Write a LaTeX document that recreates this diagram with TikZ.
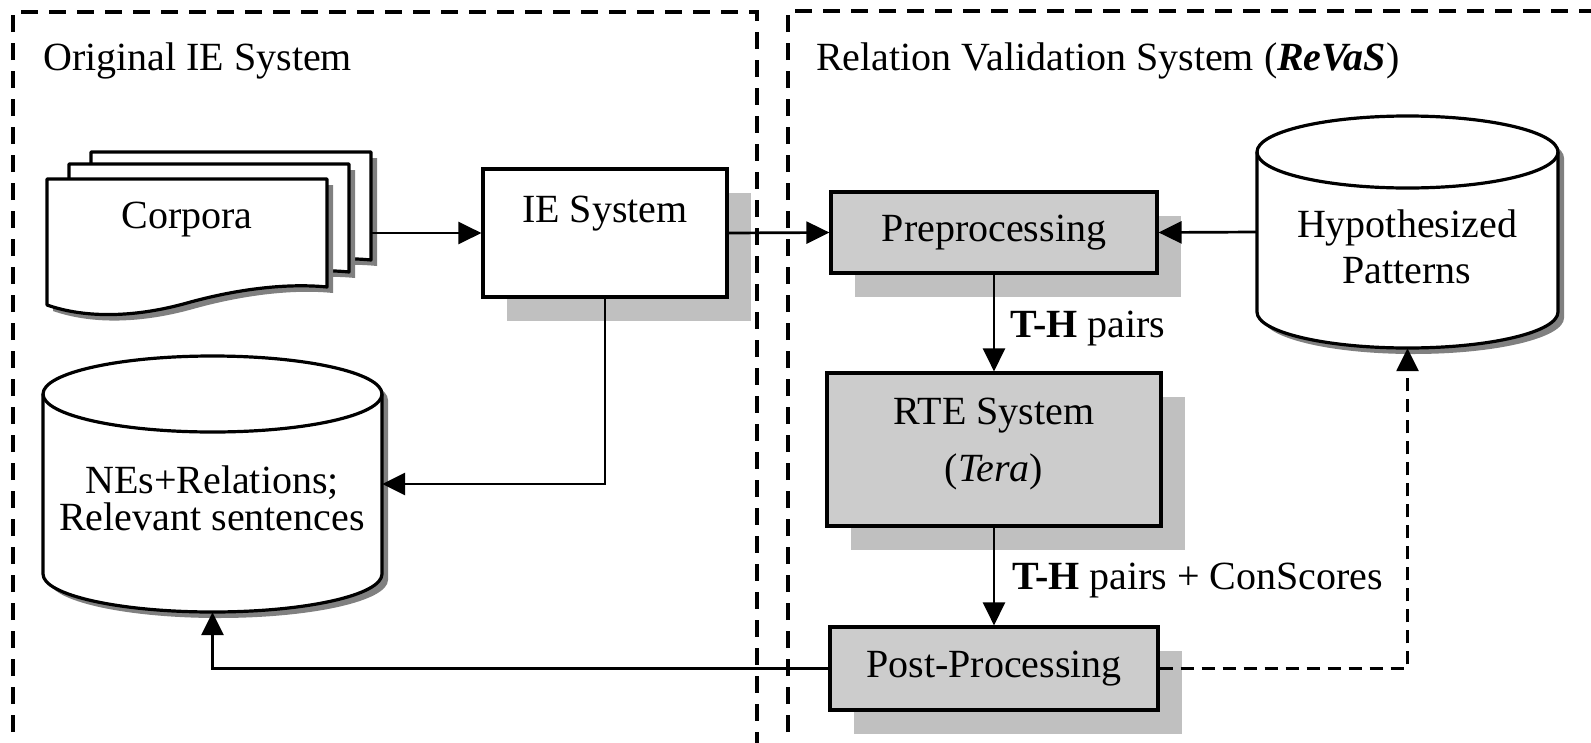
\documentclass[tikz,border=0pt]{standalone}
\usepackage{fontspec}
\setmainfont{Liberation Serif}
\usetikzlibrary{arrows.meta,shadows}
\definecolor{boxfill}{HTML}{CCCCCC}
\definecolor{boxshade}{HTML}{C0C0C0}
\definecolor{darkshade}{HTML}{808080}
\tikzset{
  every node/.style={font=\fontsize{40}{46}\selectfont, inner sep=0pt},
  bshadow/.style={drop shadow={shadow xshift=24pt, shadow yshift=-24pt, fill=boxshade, opacity=1}},
  procbox/.style={draw, line width=3.2pt, fill=boxfill, bshadow},
  iebox/.style={draw, line width=3.2pt, fill=white, bshadow},
  conn/.style={line width=2.7pt, -{Triangle[length=23pt,width=22pt]}},
  dconn/.style={conn, dash pattern=on 13pt off 8pt},
  frame/.style={line width=3.2pt, dash pattern=on 17pt off 11pt},
  outline/.style={draw, line width=3.2pt, fill=white, line join=round},
  shade/.style={fill=darkshade},
}
% document shape: x0, y0 (top-left), style
\newcommand{\docshape}[3]{%
  \path[#3] (#1,#2) -- ({#1+280},#2) -- ({#1+280},{#2+108})
    .. controls ({#1+240},{#2+104}) and ({#1+190},{#2+110}) .. ({#1+140},{#2+124})
    .. controls ({#1+90},{#2+138}) and ({#1+40},{#2+140}) .. (#1,{#2+126}) -- cycle;}
% cylinder body: cx, yt, yb, rx, ry, style
\newcommand{\cylbody}[6]{%
  \path[#6] ({#1-#4},#2) -- ({#1-#4},#3)
    .. controls ({#1-#4},{#3+0.5523*#5}) and ({#1-0.5523*#4},{#3+#5}) .. (#1,{#3+#5})
    .. controls ({#1+0.5523*#4},{#3+#5}) and ({#1+#4},{#3+0.5523*#5}) .. ({#1+#4},#3)
    -- ({#1+#4},#2)
    .. controls ({#1+#4},{#2-0.5523*#5}) and ({#1+0.5523*#4},{#2-#5}) .. (#1,{#2-#5})
    .. controls ({#1-0.5523*#4},{#2-#5}) and ({#1-#4},{#2-0.5523*#5}) .. ({#1-#4},#2) -- cycle;}
\newcommand{\cyltoprim}[5]{%
  \draw[line width=3.2pt] ({#1-#4},#2)
    .. controls ({#1-#4},{#2+0.5523*#5}) and ({#1-0.5523*#4},{#2+#5}) .. (#1,{#2+#5})
    .. controls ({#1+0.5523*#4},{#2+#5}) and ({#1+#4},{#2+0.5523*#5}) .. ({#1+#4},#2);}
\begin{document}
\begin{tikzpicture}[x=1pt,y=-1pt]
\useasboundingbox (0,0) rectangle (1591,742);
\clip (0,0) rectangle (1591,742);
% frames
\draw[frame] (13,760) -- (13,12) -- (757,12) -- (757,760);
\draw[frame] (788,760) -- (788,11) -- (1600,11);
\node[anchor=base west] (lefttitle) at (43,70) {Original IE System};
\node[anchor=base west] (righttitle) at (816,70) {Relation Validation System (\textbf{\textit{ReVaS}})};
% corpora
\docshape{97}{158}{shade}
\docshape{91}{152}{outline}
\docshape{75}{170}{shade}
\docshape{69}{164}{outline}
\docshape{53}{185}{shade}
\docshape{47}{179}{outline}
\node[anchor=base] (corpora) at (187,228) {Corpora};
\coordinate (corpR) at (371,233);
% IE system
\node[iebox, minimum width=244pt, minimum height=128pt] (ie) at (605,233) {};
\node[anchor=base] (ietext) at (605,222) {IE System};
% NEs cylinder
\node[minimum width=339pt, minimum height=256pt] (nes) at (212.5,484) {};
\begin{scope}[shift={(6,6)}]
\cylbody{212.5}{394}{574}{169.5}{38}{shade}
\end{scope}
\cylbody{212.5}{394}{574}{169.5}{38}{outline}
\cyltoprim{212.5}{394}{574}{169.5}{38}
\node[anchor=base] (nest1) at (212,493) {NEs+Relations;};
\node[anchor=base] (nest2) at (212,530) {Relevant sentences};
% Hypothesized patterns cylinder
\node[minimum width=301pt, minimum height=232pt] (hyp) at (1407.5,232) {};
\begin{scope}[shift={(6,6)}]
\cylbody{1407.5}{152}{312}{150.5}{36}{shade}
\end{scope}
\cylbody{1407.5}{152}{312}{150.5}{36}{outline}
\cyltoprim{1407.5}{152}{312}{150.5}{36}
\node[anchor=base] (hypt1) at (1407,237) {Hypothesized};
\node[anchor=base] (hypt2) at (1407,283) {Patterns};
% RVS boxes
\node[procbox, minimum width=326pt, minimum height=81pt] (pre) at (994,232.5) {Preprocessing};
\node[procbox, minimum width=334pt, minimum height=153pt] (rte) at (994,449.5) {};
\node[anchor=base] (rtet1) at (994,424) {RTE System};
\node[anchor=base] (rtet2) at (994,481) {(\textit{Tera})};
\node[procbox, minimum width=328pt, minimum height=83pt] (post) at (994,668.5) {Post-Processing};
% connectors
\draw[conn] (corpR) -- (ie.west);
\draw[conn] (ie.east) -- (pre.west);
\draw[conn] (hyp.west) -- (pre.east);
\draw[conn] (ie.south) |- (nes.east);
\draw[conn] (pre.south) -- (rte.north);
\draw[conn] (rte.south) -- (post.north);
\draw[conn] (post.west) -| (nes.south);
\draw[dconn] (post.east) -| (hyp.south);
\node[anchor=base west] (lab1) at (1010,337) {\textbf{T-H} pairs};
\node[anchor=base west] (lab2) at (1012,589) {\textbf{T-H} pairs + ConScores};
\end{tikzpicture}
\end{document}
